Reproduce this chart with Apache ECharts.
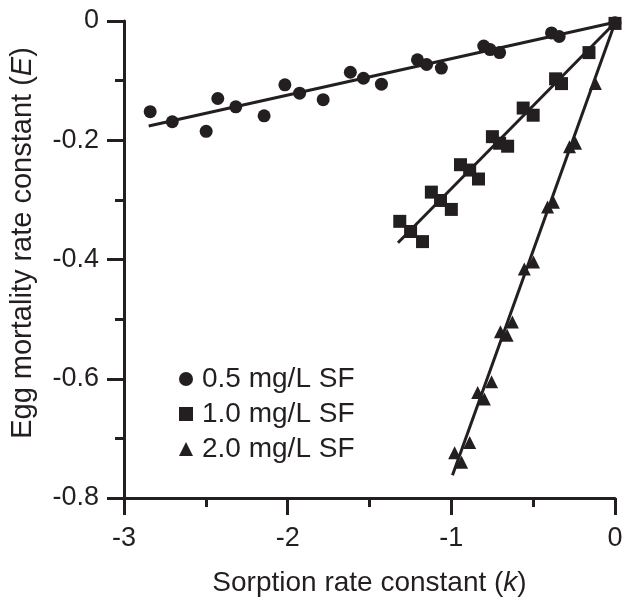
<!DOCTYPE html>
<html>
<head>
<meta charset="utf-8">
<script src="https://cdn.jsdelivr.net/npm/echarts@6/dist/echarts.min.js"></script>
<style>
  html, body { margin: 0; padding: 0; background: #fff; }
  #chart { width: 629px; height: 602px; }
</style>
</head>
<body>
<div id="chart"></div>
<script>
// 0.5 mg/L SF
const kLow = [-2.84, -2.705, -2.498, -2.427, -2.317, -2.144, -2.017, -1.927, -1.783, -1.617, -1.537, -1.427, -1.207, -1.151, -1.061, -0.802, -0.763, -0.705, -0.388, -0.341, 0];
const eLow = [-0.152, -0.169, -0.185, -0.130, -0.144, -0.159, -0.107, -0.121, -0.132, -0.086, -0.096, -0.106, -0.065, -0.073, -0.079, -0.042, -0.048, -0.053, -0.020, -0.026, -0.003];
// 1.0 mg/L SF
const kMid = [-1.315, -1.249, -1.176, -1.122, -1.066, -1.0, -0.944, -0.888, -0.834, -0.749, -0.705, -0.656, -0.561, -0.5, -0.363, -0.327, -0.159, 0];
const eMid = [-0.336, -0.353, -0.370, -0.287, -0.301, -0.316, -0.241, -0.250, -0.265, -0.194, -0.205, -0.210, -0.146, -0.158, -0.097, -0.105, -0.053, -0.004];
// 2.0 mg/L SF
const kHigh = [-0.980, -0.937, -0.888, -0.839, -0.798, -0.754, -0.700, -0.659, -0.627, -0.554, -0.498, -0.412, -0.376, -0.278, -0.241, -0.120, 0];
const eHigh = [-0.724, -0.740, -0.707, -0.623, -0.634, -0.605, -0.521, -0.527, -0.505, -0.416, -0.404, -0.312, -0.304, -0.211, -0.205, -0.105, -0.003];

// 回归线两端
const fitLow = [[-2.849, -0.176], [0, -0.002]];
const fitMid = [[-1.326, -0.372], [0, -0.003]];
const fitHigh = [[-0.993, -0.762], [0, -0.003]];

const seriesNames = ['0.5 mg/L SF', '1.0 mg/L SF', '2.0 mg/L SF'];
const ink = '#231f20';
const font = '"Liberation Sans", Arial, sans-serif';

function pairs(xs, ys) {
  return xs.map((x, i) => [x, ys[i]]);
}

function fitLine(data) {
  return {
    type: 'line',
    data: data,
    symbol: 'none',
    silent: true,
    lineStyle: { color: ink, width: 3 },
    z: 3,
  };
}

const axisCommon = {
  axisLine: { onZero: false, lineStyle: { color: ink, width: 3 } },
  axisTick: { inside: false, length: 17, lineStyle: { color: ink, width: 3 } },
  minorTick: { show: true, splitNumber: 2, length: 9, lineStyle: { color: ink, width: 3 } },
  splitLine: { show: false },
  minorSplitLine: { show: false },
};

const option = {
  animation: false,
  textStyle: { fontFamily: font },
  grid: { left: 118, right: 14, top: 21, bottom: 86 },
  legend: {
    orient: 'vertical',
    left: 174,
    top: 360,
    itemWidth: 14,
    itemHeight: 14,
    itemGap: 7,
    data: [
      { name: seriesNames[0], icon: 'circle' },
      { name: seriesNames[1], icon: 'rect' },
      { name: seriesNames[2], icon: 'triangle' },
    ],
    textStyle: { color: ink, fontSize: 28, fontFamily: font, padding: [0, 0, 0, 4] },
  },
  xAxis: Object.assign({}, axisCommon, {
    type: 'value',
    min: -3,
    max: 0,
    interval: 1,
    name: 'Sorption rate constant ({i|k})',
    nameLocation: 'middle',
    nameGap: 71,
    nameTextStyle: {
      color: ink, fontSize: 28, fontFamily: font,
      rich: { i: { fontStyle: 'italic', fontSize: 28, color: ink, fontFamily: font } },
    },
    axisLabel: { color: ink, fontSize: 27, margin: 27, fontFamily: font },
  }),
  yAxis: Object.assign({}, axisCommon, {
    type: 'value',
    min: -0.8,
    max: 0,
    interval: 0.2,
    name: 'Egg mortality rate constant ({i|E})',
    nameLocation: 'middle',
    nameGap: 87,
    nameTextStyle: {
      color: ink, fontSize: 29, fontFamily: font,
      padding: [0, 0, 0, 33],
      rich: { i: { fontStyle: 'italic', fontSize: 29, color: ink, fontFamily: font } },
    },
    axisLabel: {
      color: ink, fontSize: 27, margin: 25, fontFamily: font,
      formatter: (v) => (v === 0 ? '0' : v.toFixed(1)),
    },
  }),
  series: [
    {
      name: seriesNames[0],
      type: 'scatter',
      symbol: 'circle',
      symbolSize: 13,
      itemStyle: { color: ink, opacity: 1 },
      data: pairs(kLow, eLow),
    },
    {
      name: seriesNames[1],
      type: 'scatter',
      symbol: 'rect',
      symbolSize: 13,
      itemStyle: { color: ink, opacity: 1 },
      data: pairs(kMid, eMid),
    },
    {
      name: seriesNames[2],
      type: 'scatter',
      symbol: 'triangle',
      symbolSize: 13,
      itemStyle: { color: ink, opacity: 1 },
      data: pairs(kHigh, eHigh),
    },
    fitLine(fitLow),
    fitLine(fitMid),
    fitLine(fitHigh),
  ],
};

const myChart = echarts.init(document.getElementById('chart'));
myChart.setOption(option);
</script>
</body>
</html>
